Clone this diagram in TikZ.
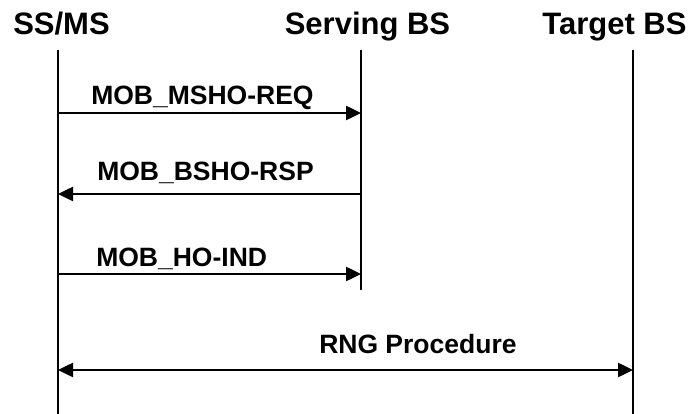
\documentclass[tikz,border=0pt]{standalone}
\usepackage{fontspec}
\setmainfont{Liberation Sans}
\usetikzlibrary{arrows.meta}

\begin{document}
\begin{tikzpicture}[
		x=1pt, y=-1pt,
		lifeLine/.style={line width=2pt},
		msgLine/.style={line width=2.5pt, -{Triangle[length=15pt,width=14pt]}},
		bothLine/.style={line width=2.5pt, {Triangle[length=15pt,width=14pt]}-{Triangle[length=15pt,width=14pt]}},
		]
		\tikzset{
			headNode/.style={inner sep=0, anchor=base, font=\fontsize{31}{36}\selectfont\bfseries},
			msgNode/.style={inner sep=0, anchor=base west, font=\fontsize{26.5}{30}\selectfont\bfseries},
		}
		\useasboundingbox (0,0) rectangle (691,414);
		
		\node[headNode] (ss) at (61.5,35) {SS/MS};
		\node[headNode] (serving) at (367.5,35) {Serving BS};
		\node[headNode] (target) at (614.5,35) {Target BS};
		
		\coordinate (ssTop) at (58,50);
		\coordinate (ssEnd) at (58,414);
		\coordinate (servTop) at (361,50);
		\coordinate (servEnd) at (361,290);
		\coordinate (tgtTop) at (633,50);
		\coordinate (tgtEnd) at (633,414);
		
		\draw[lifeLine] (ssTop) -- (ssEnd);
		\draw[lifeLine] (servTop) -- (servEnd);
		\draw[lifeLine] (tgtTop) -- (tgtEnd);
		
		\foreach \Name/\Y in {a/113, b/194, c/274, d/370}{
			\coordinate (ss\Name) at (58,\Y);
			\coordinate (serv\Name) at (361,\Y);
			\coordinate (tgt\Name) at (633,\Y);
		}
		
		\draw[msgLine] (ssa) -- (serva)
		node[msgNode] (req) at (90,105) {MOB\_MSHO-REQ};
		\draw[msgLine] (servb) -- (ssb)
		node[msgNode] (rsp) at (96,181) {MOB\_BSHO-RSP};
		\draw[msgLine] (ssc) -- (servc)
		node[msgNode] (ind) at (95,267) {MOB\_HO-IND};
		\draw[bothLine] (ssd) -- (tgtd)
		node[msgNode] (rng) at (318,353) {RNG Procedure};
	\end{tikzpicture}
\end{document}
